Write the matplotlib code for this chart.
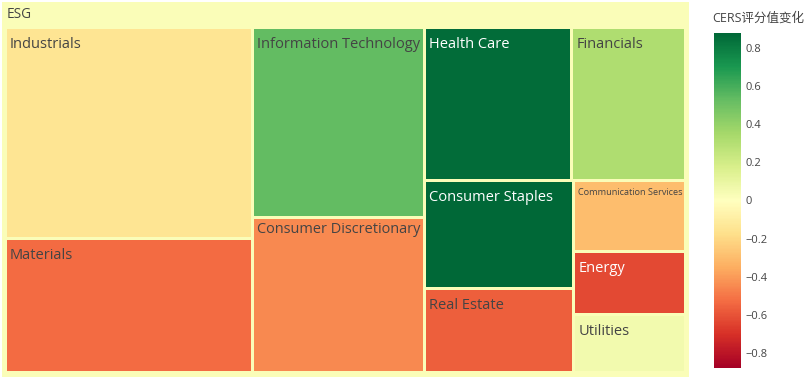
import numpy as np
import matplotlib
matplotlib.use("Agg")
import matplotlib.pyplot as plt
from matplotlib.patches import Rectangle
from matplotlib import cm, colors as mcolors

plt.rcParams['font.family'] = ['Open Sans', 'Noto Sans CJK SC', 'DejaVu Sans']

# data: sector -> size, CERS score change
sectors = ['Industrials', 'Materials', 'Information Technology', 'Consumer Discretionary',
           'Health Care', 'Financials', 'Consumer Staples', 'Real Estate',
           'Communication Services', 'Energy', 'Utilities']
sizes = [52400, 33100, 32650, 26700, 22650, 17450, 16150, 12650, 8000, 7000, 6500]
changes = [-0.15, -0.53, 0.53, -0.45, 0.86, 0.32, 0.88, -0.57, -0.30, -0.63, 0.06]
root_label = 'ESG'
cbar_title = 'CERS评分值变化'
cbar_ticks = [-0.8, -0.6, -0.4, -0.2, 0, 0.2, 0.4, 0.6, 0.8]

vmax = max(abs(c) for c in changes)
norm = mcolors.Normalize(-vmax, vmax)
cmap = plt.get_cmap('RdYlGn')


def squarify(values, x0, y0, x1, y1, ratio=1.0):
    # d3 squarifyRatio (plotly default ratio = 1)
    rects = []
    n = len(values)
    total = float(sum(values))
    i0 = i1 = 0
    while i0 < n:
        dx, dy = x1 - x0, y1 - y0
        s = values[i1]
        i1 += 1
        vmin_ = vmax_ = s
        alpha = max(dy / dx, dx / dy) / (total * ratio)
        beta = s * s * alpha
        min_ratio = max(vmax_ / beta, beta / vmin_)
        while i1 < n:
            v = values[i1]
            s += v
            vmin_ = min(vmin_, v)
            vmax_ = max(vmax_, v)
            beta = s * s * alpha
            new_ratio = max(vmax_ / beta, beta / vmin_)
            if new_ratio > min_ratio:
                s -= v
                break
            min_ratio = new_ratio
            i1 += 1
        row = values[i0:i1]
        if dx < dy:
            # dice: row across the top
            h = dy * s / total
            xx = x0
            for v in row:
                w = dx * v / s
                rects.append((xx, y0, xx + w, y0 + h))
                xx += w
            y0 += h
        else:
            # slice: column on the left
            w = dx * s / total
            yy = y0
            for v in row:
                h = dy * v / s
                rects.append((x0, yy, x0 + w, yy + h))
                yy += h
            x0 += w
        total -= s
        i0 = i1
    return rects


def text_color(rgba):
    r, g, b = [c * 255 for c in rgba[:3]]
    return 'white' if (r * 299 + g * 587 + b * 114) / 1000 < 128 else '#444444'


W, H = 811, 383
fig = plt.figure(figsize=(W / 100, H / 100), dpi=100)
ax = fig.add_axes([0, 0, 1, 1])
ax.set_xlim(0, W)
ax.set_ylim(H, 0)
ax.axis('off')

# root box, colour = value-weighted mean
root_val = np.average(changes, weights=sizes)
root_col = cmap(norm(root_val))
ax.add_patch(Rectangle((2, 2), 687, 375, facecolor=root_col, edgecolor='none'))
ax.text(7, 15, root_label, fontsize=9.8, color='#444444', va='center', ha='left')

pad = 1.5
rects = squarify(sizes, 7 - pad, 29 - pad, 684 + pad, 371 + pad)
renderer = fig.canvas.get_renderer()
for (x0, y0, x1, y1), name, c in zip(rects, sectors, changes):
    fc = cmap(norm(c))
    ax.add_patch(Rectangle((x0 + pad, y0 + pad), x1 - x0 - 2 * pad, y1 - y0 - 2 * pad,
                           facecolor=fc, edgecolor='none'))
    t = ax.text(x0 + pad + 3, y0 + pad + 15.5, name, fontsize=10.5, color=text_color(fc),
                va='center', ha='left')
    # shrink text to fit the box width
    bw = (x1 - x0 - 2 * pad - 4)
    tw = t.get_window_extent(renderer).width
    if tw > bw:
        t.set_fontsize(10.5 * bw / tw)
        t.set_y(y0 + pad + 10.5)

# colorbar
cax = fig.add_axes([714 / W, (H - 368) / H, 27 / W, 335 / H])
sm = cm.ScalarMappable(norm=norm, cmap=cmap)
cb = fig.colorbar(sm, cax=cax, ticks=cbar_ticks)
cb.outline.set_visible(False)
cb.ax.tick_params(length=0, labelsize=8, labelcolor='#444444', pad=3)
cb.ax.set_yticklabels(['0' if v == 0 else f'{v:.1f}'.replace('-', '\u2212') for v in cbar_ticks])
fig.text(712 / W, (H - 18) / H, cbar_title, fontsize=9, color='#444444', va='center', ha='left')

fig.savefig('out.png', dpi=100)
